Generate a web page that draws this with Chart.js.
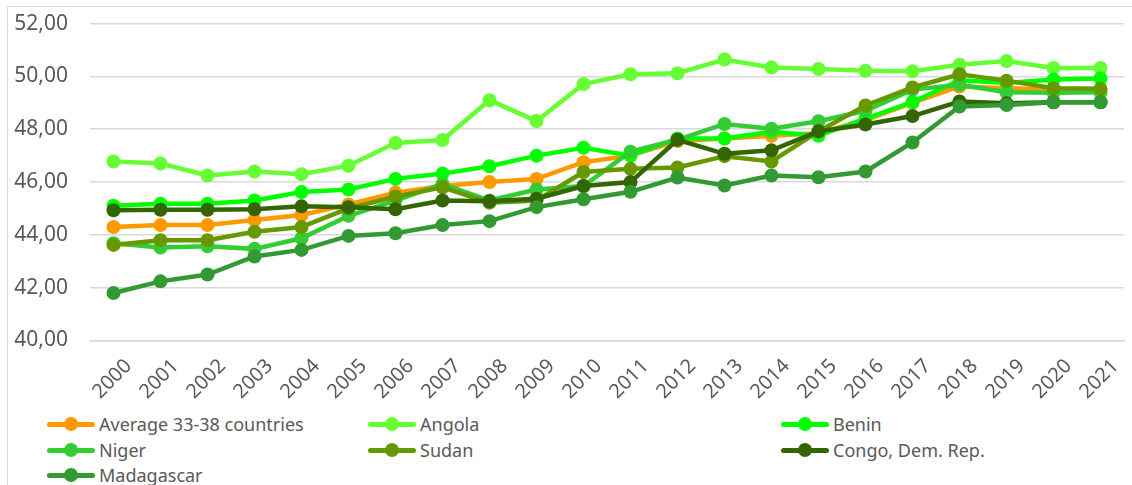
<!DOCTYPE html>
<html>
<head>
<meta charset="utf-8">
<script src="https://cdn.jsdelivr.net/npm/chart.js@4/dist/chart.umd.min.js"></script>
<style>
  body { margin: 0; background: #fff; font-family: "Noto Sans", sans-serif; }
  #wrap { position: relative; width: 1132px; height: 485px; overflow: hidden; }
  #frame { position: absolute; left: 7px; top: 6px; width: 1200px; height: 600px; border: 1px solid #d9d9d9; }
  #box { position: absolute; left: 0; top: -11px; width: 1132px; height: 421px; }
  #legend { position: absolute; left: 0; top: 410px; width: 1132px; height: 75px; }
  .item { position: absolute; display: flex; align-items: center; height: 26px; color: #595959; font-size: 18px; white-space: nowrap; }
  .sw { position: relative; width: 48px; height: 5px; border-radius: 3px; margin-right: 4px; }
  .sw i { position: absolute; left: 17px; top: -4.5px; width: 14px; height: 14px; border-radius: 50%; }
</style>
</head>
<body>
<div id="wrap">
  <div id="frame"></div>
  <div id="box"><canvas id="chart"></canvas></div>
  <div id="legend"></div>
</div>
<script>
const years = ["2000","2001","2002","2003","2004","2005","2006","2007","2008","2009","2010",
  "2011","2012","2013","2014","2015","2016","2017","2018","2019","2020","2021"];

const average = [44.3, 44.37, 44.37, 44.56, 44.75, 45.15, 45.6, 45.85, 46.0, 46.12, 46.75,
  47.0, 47.55, 47.65, 47.75, 47.85, 48.35, 49.0, 49.62, 49.55, 49.5, 49.5];
const angola = [46.78, 46.7, 46.25, 46.4, 46.3, 46.62, 47.48, 47.59, 49.1, 48.31, 49.71,
  50.08, 50.12, 50.64, 50.34, 50.28, 50.21, 50.2, 50.44, 50.58, 50.32, 50.32];
const benin = [45.1, 45.18, 45.18, 45.3, 45.62, 45.72, 46.12, 46.32, 46.6, 47.0, 47.3,
  47.0, 47.65, 47.65, 47.9, 47.75, 48.4, 49.03, 49.85, 49.75, 49.88, 49.92];
const niger = [43.68, 43.52, 43.57, 43.47, 43.87, 44.72, 45.3, 45.93, 45.3, 45.72, 45.85,
  47.15, 47.6, 48.2, 48.02, 48.3, 48.7, 49.5, 49.68, 49.4, 49.38, 49.4];
const sudan = [43.62, 43.8, 43.8, 44.12, 44.3, 45.0, 45.45, 45.8, 45.22, 45.3, 46.38,
  46.5, 46.55, 46.98, 46.78, 47.92, 48.9, 49.58, 50.08, 49.84, 49.55, 49.53];
const congo = [44.93, 44.95, 44.95, 44.97, 45.08, 45.05, 44.97, 45.3, 45.27, 45.37, 45.85,
  46.0, 47.6, 47.07, 47.2, 47.92, 48.18, 48.5, 49.05, 48.98, 49.02, 49.02];
const madagascar = [41.8, 42.24, 42.5, 43.18, 43.43, 43.96, 44.06, 44.37, 44.52, 45.05, 45.35,
  45.63, 46.17, 45.87, 46.25, 46.18, 46.4, 47.5, 48.86, 48.92, 49.02, 49.02];

const names = ["Average 33-38 countries", "Angola", "Benin", "Niger", "Sudan", "Congo, Dem. Rep.", "Madagascar"];
const series = [average, angola, benin, niger, sudan, congo, madagascar];
const colors = ["#ff9900", "#66ff33", "#00ff00", "#33cc33", "#669900", "#336600", "#339933"];

const datasets = series.map((vals, i) => ({
  label: names[i],
  data: vals,
  borderColor: colors[i],
  backgroundColor: colors[i],
  borderWidth: 4.5,
  pointRadius: 7,
  pointHoverRadius: 7,
  pointBorderWidth: 0,
  tension: 0,
  order: series.length - i // later series drawn on top, like Excel
}));

const font = { family: "Noto Sans", size: 20 };

const chart = new Chart(document.getElementById("chart"), {
  type: "line",
  data: { labels: years, datasets: datasets },
  options: {
    responsive: true,
    maintainAspectRatio: false,
    animation: false,
    layout: { padding: { left: 8, top: 10, right: 8, bottom: 0 } },
    plugins: { legend: { display: false }, tooltip: { enabled: false } },
    scales: {
      x: {
        offset: true,
        grid: { display: false, drawTicks: false },
        border: { display: true, color: "#d9d9d9", width: 1.5 },
        ticks: { color: "#595959", font: font, maxRotation: 45, minRotation: 45, padding: 14, labelOffset: 15 },
        afterFit: s => { s.height = 69.5; }
      },
      y: {
        min: 40,
        max: 52,
        grid: { color: "#d9d9d9", lineWidth: 1.5, drawTicks: false },
        border: { display: false },
        ticks: {
          stepSize: 2,
          color: "#595959",
          font: { family: "Noto Sans", size: 21 },
          padding: 22,
          callback: v => v.toFixed(2).replace(".", ",")
        },
        afterFit: s => { s.width = 82; }
      }
    }
  }
});

// legend in Excel's three-column layout
const cols = [47, 368, 781];
const rows = [411, 437, 462];
const legend = document.getElementById("legend");
datasets.forEach((d, i) => {
  const el = document.createElement("div");
  el.className = "item";
  el.style.left = cols[i % 3] + "px";
  el.style.top = (rows[Math.floor(i / 3)] - 410) + "px";
  el.innerHTML = '<span class="sw" style="background:' + d.borderColor + '"><i style="background:' +
    d.borderColor + '"></i></span>' + d.label;
  legend.appendChild(el);
});
</script>
</body>
</html>
